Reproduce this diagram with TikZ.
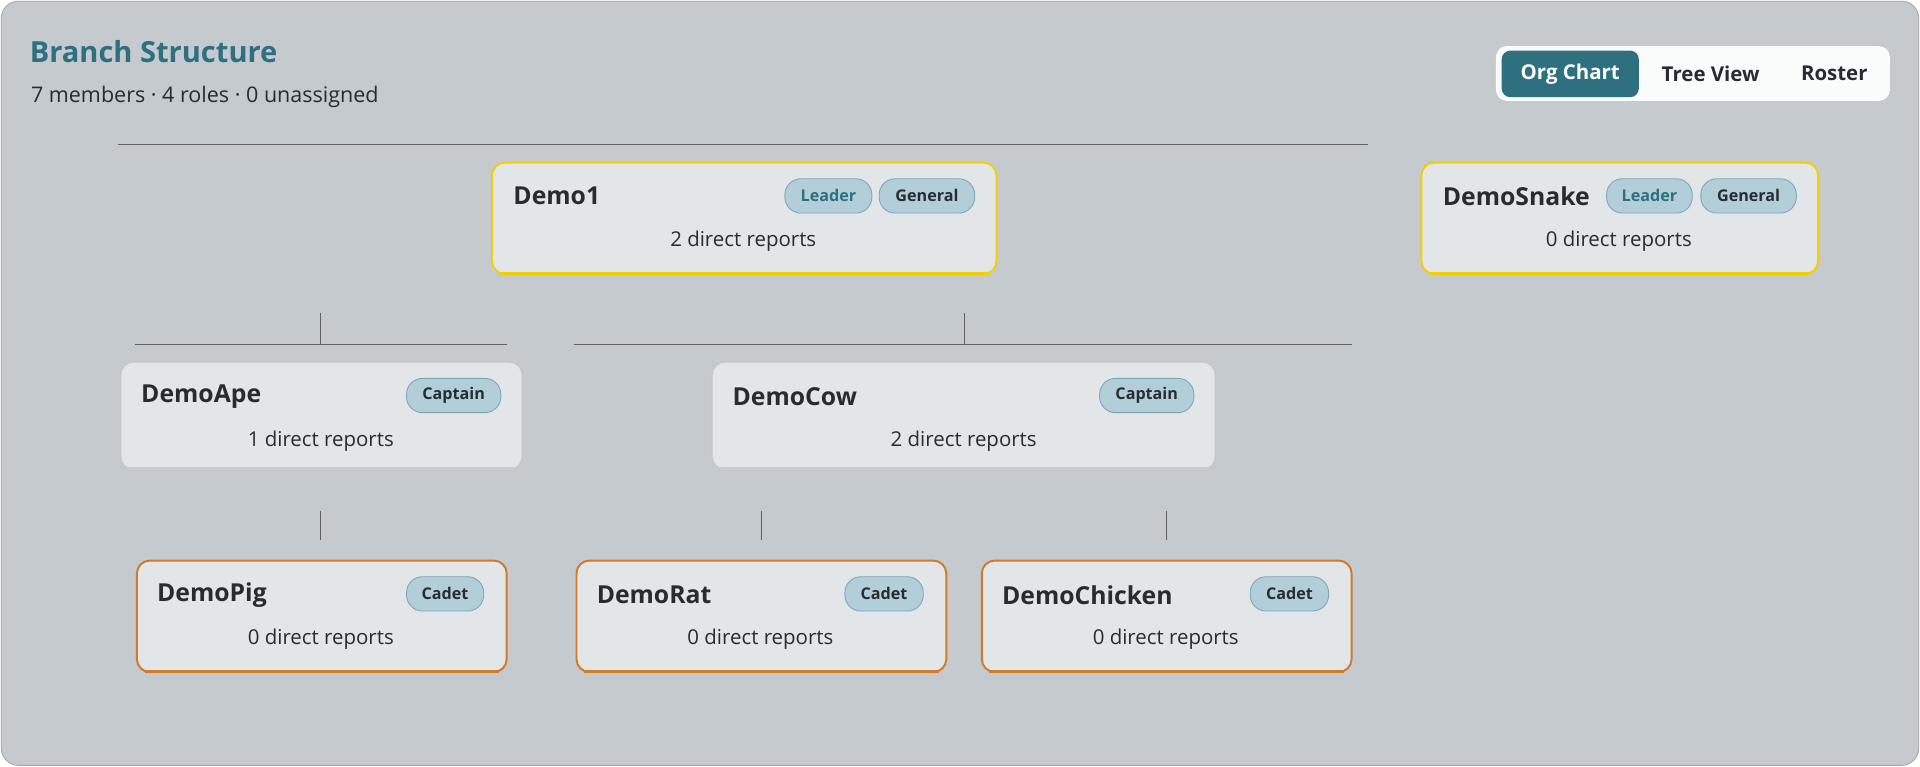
\documentclass[tikz,border=0pt]{standalone}
\usepackage{fontspec}
\setmainfont{Open Sans}
\usetikzlibrary{positioning}
\definecolor{teal}{RGB}{46,111,128}
\definecolor{bgpanel}{RGB}{196,202,206}
\definecolor{cardfill}{RGB}{226,230,233}
\definecolor{pillfill}{RGB}{178,206,216}
\definecolor{pillline}{RGB}{128,166,180}
\definecolor{gold}{RGB}{242,208,0}
\definecolor{cadetline}{RGB}{208,122,42}
\definecolor{txt}{RGB}{40,44,48}
\newcommand\px{0.02cm}
\tikzset{
    % cards
    card/.style={
        draw=gray!45, fill=cardfill, rounded corners=6pt, line width=0.6pt,
        anchor=north west, minimum height=88*\px, inner sep=0pt
    },
    card-leader/.style={card, draw=gold, line width=0.9pt, minimum height=91*\px},
    card-cadet/.style={card, draw=cadetline, line width=0.9pt, minimum height=91*\px},
    card-name/.style={anchor=west, inner sep=0pt, font=\bfseries\fontsize{11.5}{14}\selectfont, text=txt},
    card-info/.style={font=\fontsize{9.5}{12}\selectfont, text=txt},
    % role pills
    pill/.style={
        draw=pillline, fill=pillfill, rounded corners=13*\px, minimum height=28*\px,
        inner sep=0pt, font=\bfseries\fontsize{7.5}{9}\selectfont, text=txt
    },
    % links
    link/.style={draw=gray!75!black, line width=0.5pt}
}
\begin{document}
\begin{tikzpicture}[x=0.02cm, y=-0.02cm]
    \useasboundingbox (0,0) rectangle (1568,626);
    \draw[fill=bgpanel, draw=gray!70, rounded corners=8pt] (1,1) rectangle (1567,625);

    % header
    \node[anchor=west, inner sep=0pt, text=teal, font=\bfseries\fontsize{13.5}{16}\selectfont] (title) at (24,42) {Branch Structure};
    \node[anchor=west, inner sep=0pt, text=txt, font=\fontsize{10}{12}\selectfont] (subtitle) at (25,79) {7 members · 4 roles · 0 unassigned};

    % tabs
    \draw[fill=white!92!bgpanel, draw=white, rounded corners=5pt] (1222,38) rectangle (1543,82);
    \node[fill=teal, rounded corners=4pt, anchor=north west, minimum width=112*\px, minimum height=38*\px,
          text=white, font=\bfseries\fontsize{9.5}{12}\selectfont] (orgchart) at (1226,41) {Org Chart};
    \node[text=txt, font=\bfseries\fontsize{9.5}{12}\selectfont] (treeview) at (1397,60) {Tree View};
    \node[text=txt, font=\bfseries\fontsize{9.5}{12}\selectfont] (roster) at (1498,60) {Roster};

    % cards
    \foreach \nm/\st/\x/\y/\w in {demo1/card-leader/401/132/412, snake/card-leader/1160/132/324,
                                  ape/card/98/295/328, cow/card/581/295/411,
                                  pig/card-cadet/111/457/302, rat/card-cadet/470/457/302,
                                  chicken/card-cadet/801/457/302}
        \node[\st, minimum width=\w*\px] (\nm) at (\x,\y) {};
    \foreach \nm/\cl in {demo1/gold, snake/gold, ape/gray!40, cow/gray!40, pig/cadetline, rat/cadetline, chicken/cadetline}
        \draw[\cl, line width=1.6pt] ([xshift=4pt, yshift=0.7pt]\nm.south west) -- ([xshift=-4pt, yshift=0.7pt]\nm.south east);

    % names and counts
    \node[card-name] at (419,160) {Demo1};
    \node[card-info] at (607,197) {2 direct reports};
    \node[card-name] at (1178,160) {DemoSnake};
    \node[card-info] at (1322,197) {0 direct reports};
    \node[card-name] at (115,324) {DemoApe};
    \node[card-info] at (262,360) {1 direct reports};
    \node[card-name] at (598,324) {DemoCow};
    \node[card-info] at (787,360) {2 direct reports};
    \node[card-name] at (128,486) {DemoPig};
    \node[card-info] at (262,522) {0 direct reports};
    \node[card-name] at (487,486) {DemoRat};
    \node[card-info] at (621,522) {0 direct reports};
    \node[card-name] at (818,486) {DemoChicken};
    \node[card-info] at (952,522) {0 direct reports};

    % pills
    \node[pill, minimum width=71*\px, text=teal] at (676.5,160) {Leader};
    \node[pill, minimum width=78*\px] at (757,160) {General};
    \node[pill, minimum width=70*\px, text=teal] at (1347,160) {Leader};
    \node[pill, minimum width=78*\px] at (1428,160) {General};
    \node[pill, minimum width=77*\px] at (370.5,323) {Captain};
    \node[pill, minimum width=77*\px] at (936.5,323) {Captain};
    \node[pill, minimum width=63*\px] at (363.5,485) {Cadet};
    \node[pill, minimum width=64*\px] at (722,485) {Cadet};
    \node[pill, minimum width=64*\px] at (1053,485) {Cadet};

    % links
    \coordinate (top-l) at (96,118);   \coordinate (top-r) at (1117,118);
    \coordinate (ape-up) at (262,256); \coordinate (ape-bar) at (262,281);
    \coordinate (ape-l) at (110,281);  \coordinate (ape-r) at (414,281);
    \coordinate (cow-up) at (788,256); \coordinate (cow-bar) at (788,281);
    \coordinate (cow-l) at (469,281);  \coordinate (cow-r) at (1104,281);
    \draw[link] (top-l) -- (top-r);
    \draw[link] (ape-up) -- (ape-bar);
    \draw[link] (ape-l) -- (ape-r);
    \draw[link] (cow-up) -- (cow-bar);
    \draw[link] (cow-l) -- (cow-r);
    \foreach \x in {262, 622, 953} {
        \coordinate (a-\x) at (\x,417);
        \coordinate (b-\x) at (\x,441);
        \draw[link] (a-\x) -- (b-\x);
    }
\end{tikzpicture}
\end{document}
